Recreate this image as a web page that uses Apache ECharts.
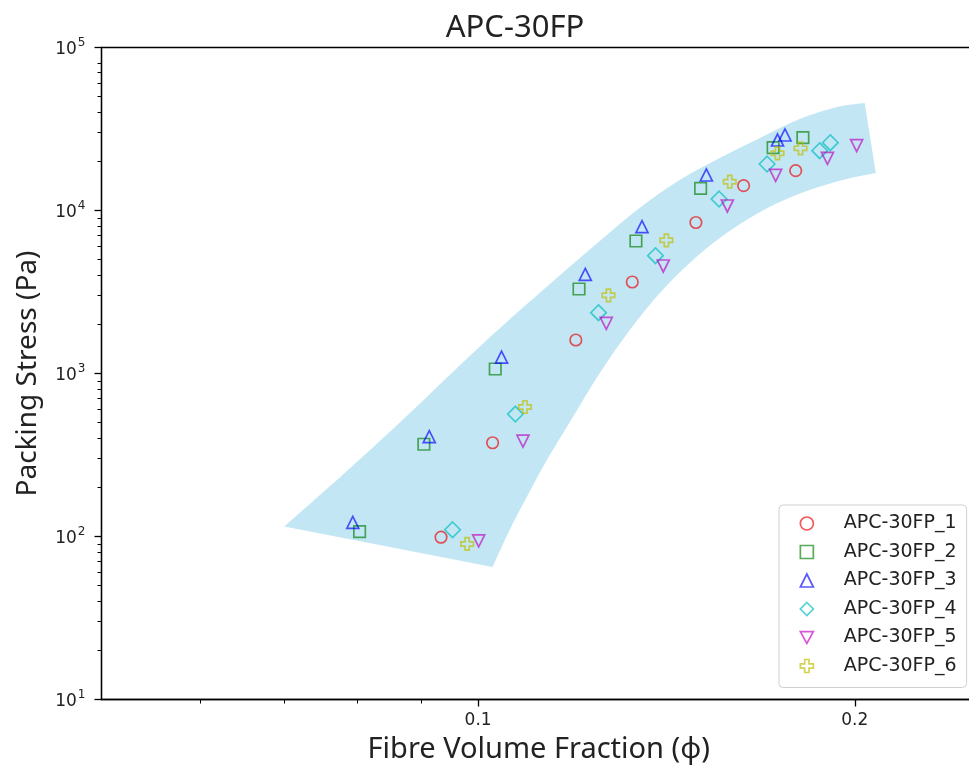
<!DOCTYPE html>
<html><head><meta charset="utf-8">
<script src="https://cdn.jsdelivr.net/npm/echarts@6/dist/echarts.min.js"></script>
<style>html,body{margin:0;padding:0;background:#fff}#c{width:969px;height:768px}</style>
</head><body><div id="c"></div>
<script>
// ---- data ----
const seriesNames = ['APC-30FP_1', 'APC-30FP_2', 'APC-30FP_3', 'APC-30FP_4', 'APC-30FP_5', 'APC-30FP_6'];
const phi1 = [0.0934, 0.1027, 0.1197, 0.1328, 0.1493, 0.1630, 0.1794];
const stress1 = [99, 376, 1605, 3641, 8441, 14195, 17550];
const phi2 = [0.0804, 0.0905, 0.1032, 0.1204, 0.1337, 0.1506, 0.1721, 0.1818];
const stress2 = [107, 368, 1066, 3299, 6500, 13684, 24285, 27970];
const phi3 = [0.0794, 0.0914, 0.1044, 0.1218, 0.1352, 0.1522, 0.1735, 0.1759];
const stress3 = [122, 410, 1262, 4061, 7955, 16514, 27070, 29060];
const phi4 = [0.0954, 0.1071, 0.1248, 0.1386, 0.1558, 0.1702, 0.1875, 0.1912];
const stress4 = [110, 564, 2360, 5280, 11765, 19290, 23280, 26060];
const phi5 = [0.1001, 0.1086, 0.1266, 0.1406, 0.1582, 0.1729, 0.1902, 0.2007];
const stress5 = [94, 385, 2032, 4566, 10657, 16440, 20900, 24970];
const phi6 = [0.0980, 0.1090, 0.1271, 0.1414, 0.1589, 0.1735, 0.1810];
const stress6 = [90, 623, 3018, 6565, 15020, 22440, 24070];

// shaded band: upper edge left->right, lower edge right->left
const bandUpperPhi = [0.0700, 0.0779, 0.0870, 0.0949, 0.1037, 0.1151, 0.1251, 0.1346, 0.1449, 0.1560, 0.1680, 0.1807, 0.1938, 0.2037];
const bandUpperStress = [115, 238, 518, 979, 1849, 3746, 6500, 10360, 15390, 20990, 27850, 36410, 43150, 45640];
const bandLowerPhi = [0.2079, 0.1956, 0.1841, 0.1742, 0.1649, 0.1560, 0.1476, 0.1397, 0.1322, 0.1251, 0.1184, 0.1135, 0.1100, 0.1060, 0.1027];
const bandLowerStress = [16990, 15390, 13360, 11275, 8995, 6781, 4764, 3118, 1849, 1007, 504, 295, 190, 110, 65];

const xMajorTicks = [0.1, 0.2];
const xMinorTicks = [0.06, 0.07, 0.08, 0.09];
const yMajorTicks = [10, 100, 1000, 10000, 100000];
const yMinorTicks = [20,30,40,50,60,70,80,90,200,300,400,500,600,700,800,900,2000,3000,4000,5000,6000,7000,8000,9000,20000,30000,40000,50000,60000,70000,80000];

// ---- styles ----
const phis = [phi1, phi2, phi3, phi4, phi5, phi6];
const stresses = [stress1, stress2, stress3, stress4, stress5, stress6];
const colors = ['rgba(240,0,0,0.82)', 'rgba(0,128,0,0.82)', 'rgba(0,0,255,0.82)', 'rgba(0,191,191,0.85)', 'rgba(191,0,191,0.82)', 'rgba(191,191,0,0.85)'];
const plusPath = 'path://M4,0H8V4H12V8H8V12H4V8H0V4H4Z';
const downTriPath = 'path://M0,0L12,0L6,11Z';
const symbols = ['circle', 'rect', 'triangle', 'diamond', 'triangle', plusPath];
const legendIcons = ['circle', 'rect', 'triangle', 'diamond', downTriPath, plusPath];
const rotations = [0, 0, 0, 0, 180, 0];
const sizes = [11.5, 11.5, 12, 15.5, 12, 12.5];

const scatterSeries = seriesNames.map((name, i) => ({
  name: name,
  type: 'scatter',
  xAxisIndex: 0, yAxisIndex: 0,
  symbol: symbols[i],
  symbolRotate: rotations[i],
  symbolSize: sizes[i],
  itemStyle: { color: 'rgba(0,0,0,0)', borderColor: colors[i], borderWidth: 1.7 },
  emphasis: { disabled: true },
  z: 3,
  data: phis[i].map((p, k) => [p, stresses[i][k]])
}));

// smooth pixel path through projected vertices (Catmull-Rom)
function smoothSegment(pts) {
  let d = '';
  for (let i = 0; i < pts.length - 1; i++) {
    const p0 = pts[Math.max(0, i - 1)], p1 = pts[i], p2 = pts[i + 1], p3 = pts[Math.min(pts.length - 1, i + 2)];
    const c1 = [p1[0] + (p2[0] - p0[0]) / 6, p1[1] + (p2[1] - p0[1]) / 6];
    const c2 = [p2[0] - (p3[0] - p1[0]) / 6, p2[1] - (p3[1] - p1[1]) / 6];
    d += 'C' + c1[0] + ',' + c1[1] + ' ' + c2[0] + ',' + c2[1] + ' ' + p2[0] + ',' + p2[1];
  }
  return d;
}

const bandSeries = {
  type: 'custom',
  xAxisIndex: 0, yAxisIndex: 0,
  silent: true,
  z: 1,
  data: [[bandUpperPhi[0], bandUpperStress[0]]],
  renderItem: function (params, api) {
    const up = bandUpperPhi.map((p, i) => api.coord([p, bandUpperStress[i]]));
    const lo = bandLowerPhi.map((p, i) => api.coord([p, bandLowerStress[i]]));
    const d = 'M' + up[0][0] + ',' + up[0][1] + smoothSegment(up) +
      'L' + lo[0][0] + ',' + lo[0][1] + smoothSegment(lo) + 'Z';
    return { type: 'path', shape: { pathData: d }, style: { fill: 'rgba(135,206,235,0.5)' } };
  }
};

const axisColor = '#000';
const chart = echarts.init(document.getElementById('c'));
chart.setOption({
  animation: false,
  backgroundColor: '#fff',
  title: {
    text: 'APC-30FP', left: 510, top: 6, textAlign: 'center',
    textStyle: { fontFamily: 'Noto Sans', fontSize: 31, fontWeight: 'normal', color: '#222', lineHeight: 34 }
  },
  grid: { left: 101.5, top: 47.5, width: 874.5, height: 652, show: true, borderColor: axisColor, borderWidth: 1.3, backgroundColor: 'transparent', outerBoundsMode: 'none', containLabel: false },
  legend: {
    orient: 'vertical', left: 779, top: 505,
    padding: [9, 10, 12, 20.5],
    itemWidth: 13, itemHeight: 13, itemGap: 9.5,
    backgroundColor: 'rgba(255,255,255,0.8)', borderColor: '#d0d0d0', borderWidth: 1, borderRadius: 4,
    itemStyle: { borderWidth: 1.7 },
    textStyle: { fontFamily: 'DejaVu Sans', fontSize: 19, color: '#222', lineHeight: 19, padding: [0, 0, 0, 25.5] },
    data: seriesNames.map((n, i) => ({ name: n, icon: legendIcons[i] }))
  },
  xAxis: [
    {
      type: 'log', logBase: 10, min: 0.05, max: 0.25, gridIndex: 0,
      name: 'Fibre Volume Fraction (\u03d5)', nameLocation: 'middle', nameGap: 36,
      nameTextStyle: { fontFamily: 'Noto Sans', fontSize: 29, color: '#222', lineHeight: 29 },
      axisLine: { show: true, onZero: false, lineStyle: { color: axisColor, width: 1.3 } },
      axisTick: { show: true, inside: false, length: 7, lineStyle: { color: axisColor, width: 1.3 }, customValues: xMajorTicks },
      axisLabel: { show: true, customValues: xMajorTicks, margin: 13, fontFamily: 'DejaVu Sans', fontSize: 17, color: '#222', formatter: v => String(+(+v).toFixed(3)) },
      splitLine: { show: false }, minorTick: { show: false }
    },
    {
      type: 'log', logBase: 10, min: 0.05, max: 0.25, gridIndex: 0, position: 'bottom',
      axisLine: { show: false },
      axisTick: { show: true, inside: false, length: 4, lineStyle: { color: axisColor, width: 1 }, customValues: xMinorTicks },
      axisLabel: { show: false }, splitLine: { show: false }
    }
  ],
  yAxis: [
    {
      type: 'log', logBase: 10, min: 10, max: 100000, gridIndex: 0,
      name: 'Packing Stress (Pa)', nameLocation: 'middle', nameGap: 59,
      nameTextStyle: { fontFamily: 'Noto Sans', fontSize: 28, color: '#222', lineHeight: 28 },
      axisLine: { show: true, onZero: false, lineStyle: { color: axisColor, width: 1.3 } },
      axisTick: { show: true, inside: false, length: 7, lineStyle: { color: axisColor, width: 1.3 }, customValues: yMajorTicks },
      axisLabel: {
        show: true, customValues: yMajorTicks, margin: 16,
        formatter: v => '{b|10}{s|' + Math.round(Math.log10(v)) + '}',
        rich: {
          b: { fontFamily: 'DejaVu Sans', fontSize: 17, color: '#222', lineHeight: 22, verticalAlign: 'bottom' },
          s: { fontFamily: 'DejaVu Sans', fontSize: 12, color: '#222', lineHeight: 22, verticalAlign: 'top', padding: [0, 0, 0, 1] }
        }
      },
      splitLine: { show: false }, minorTick: { show: false }
    },
    {
      type: 'log', logBase: 10, min: 10, max: 100000, gridIndex: 0, position: 'left',
      axisLine: { show: false },
      axisTick: { show: true, inside: false, length: 4, lineStyle: { color: axisColor, width: 1 }, customValues: yMinorTicks },
      axisLabel: { show: false }, splitLine: { show: false }
    }
  ],
  series: [bandSeries].concat(scatterSeries)
});
</script>
</body></html>
